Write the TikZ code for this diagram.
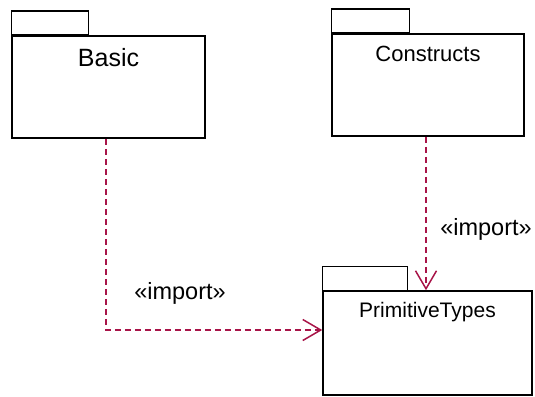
\documentclass[tikz,border=0pt]{standalone}
\usepackage{fontspec}
\setmainfont{Liberation Sans}
\usetikzlibrary{arrows.meta}
\definecolor{importred}{RGB}{168,20,72}
\tikzset{
  pkg/.style={draw, line width=1.5pt, inner sep=0pt},
  pkgname/.style={anchor=base, inner sep=0pt},
  import/.style={draw=importred, line width=1.5pt, dash pattern=on 6pt off 4pt,
    -{Straight Barb[length=18pt, width=21pt, line width=1.5pt]}},
  stereo/.style={anchor=base, inner sep=0pt, font=\fontsize{23.5}{28}\selectfont}
}
\begin{document}
\begin{tikzpicture}[x=1pt, y=-1pt]
  \useasboundingbox (0,0) rectangle (535,396);
  % package bodies
  \node[pkg, minimum width=193pt, minimum height=102pt] (basic) at (108.5, 87) {};
  \node[pkg, minimum width=192pt, minimum height=102pt] (constructs) at (428, 85) {};
  \node[pkg, minimum width=209pt, minimum height=104pt] (prim) at (427.5, 343) {};
  % tabs
  \draw[line width=1.5pt] (basic.north west) rectangle ++(77, -24);
  \draw[line width=1.5pt] (constructs.north west) rectangle ++(78, -24);
  \draw[line width=1.5pt] (prim.north west) rectangle ++(85, -24);
  % names
  \node[pkgname, font=\fontsize{25}{30}\selectfont] (basicname)
    at ([yshift=-31pt]basic.north) {Basic};
  \node[pkgname, font=\fontsize{22}{26}\selectfont] (constructsname)
    at ([yshift=-28pt]constructs.north) {Constructs};
  \node[pkgname, font=\fontsize{21}{25}\selectfont] (primname)
    at ([yshift=-27pt]prim.north) {PrimitiveTypes};
  % imports
  \draw[import] ([xshift=-2.5pt]basic.south) |- ([yshift=13pt]prim.west);
  \draw[import] ([xshift=-2pt]constructs.south) -- ([xshift=-2pt]constructs.south |- prim.north);
  \node[stereo] (imp1) at (180, 299) {«import»};
  \node[stereo] (imp2) at (486, 235) {«import»};
\end{tikzpicture}
\end{document}
